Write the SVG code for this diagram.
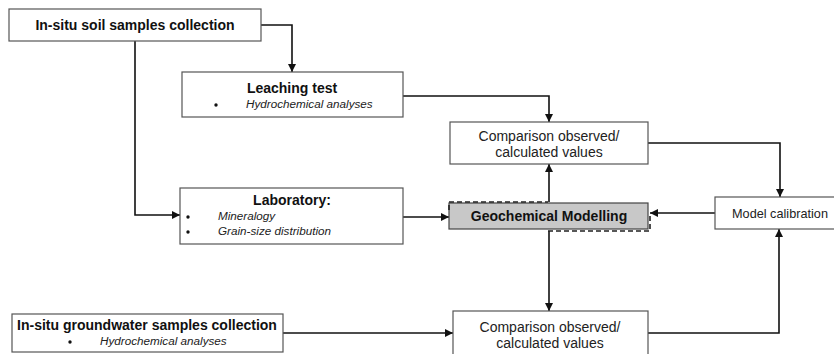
<svg xmlns="http://www.w3.org/2000/svg" width="834" height="354" viewBox="0 0 834 354">
<style>
.box{fill:#fff;stroke:#555;stroke-width:1.2}
.b{font-family:"Liberation Sans",Arial,sans-serif;font-weight:bold;font-size:14px;fill:#111}
.r{font-family:"Liberation Sans",Arial,sans-serif;font-size:14px;fill:#222}
.i{font-family:"Liberation Sans",Arial,sans-serif;font-style:italic;font-size:11.7px;fill:#222}
.c{fill:none;stroke:#111;stroke-width:1.6}
</style>
<defs>
<marker id="ah" viewBox="0 0 8 8" refX="8" refY="4" markerWidth="5" markerHeight="5" markerUnits="strokeWidth" orient="auto">
<path d="M0,0 L8,4 L0,8 z" fill="#111"/>
</marker>
</defs>
<g id="connectors">
<path class="c" d="M261,25 H292 V72" marker-end="url(#ah)"/>
<path class="c" d="M135,41 V215 H180" marker-end="url(#ah)"/>
<path class="c" d="M403,96 H549 V122" marker-end="url(#ah)"/>
<path class="c" d="M648,143 H780 V197" marker-end="url(#ah)"/>
<path class="c" d="M549,202 V164" marker-end="url(#ah)"/>
<path class="c" d="M403,217 H449" marker-end="url(#ah)"/>
<path class="c" d="M715,213 H650" marker-end="url(#ah)"/>
<path class="c" d="M549,231 V311" marker-end="url(#ah)"/>
<path class="c" d="M283,333 H453" marker-end="url(#ah)"/>
<path class="c" d="M648,333 H779 V229" marker-end="url(#ah)"/>
</g>
<g id="soil">
<rect class="box" x="9" y="9" width="252" height="32"/>
<text class="b" x="135" y="30" text-anchor="middle">In-situ soil samples collection</text>
</g>
<g id="leaching">
<rect class="box" x="182" y="72" width="221" height="45"/>
<text class="b" x="292" y="93" text-anchor="middle">Leaching test</text>
<circle cx="216" cy="105" r="1.7" fill="#111"/>
<text class="i" x="246" y="108">Hydrochemical analyses</text>
</g>
<g id="comparison1">
<rect class="box" x="450" y="122" width="198" height="42"/>
<text class="r" x="549" y="141" text-anchor="middle">Comparison observed/</text>
<text class="r" x="549" y="157" text-anchor="middle">calculated values</text>
</g>
<g id="laboratory">
<rect class="box" x="180" y="188" width="223" height="56"/>
<text class="b" x="292" y="205" text-anchor="middle">Laboratory:</text>
<circle cx="188" cy="217" r="1.7" fill="#111"/>
<text class="i" x="218" y="220">Mineralogy</text>
<circle cx="188" cy="232" r="1.7" fill="#111"/>
<text class="i" x="218" y="235">Grain-size distribution</text>
</g>
<g id="geochem">
<rect x="449" y="203" width="199" height="26" fill="#c8c8c8" stroke="#444" stroke-width="1.2"/>
<path d="M449,210 V202 H548 M548,231 H650 V215" fill="none" stroke="#222" stroke-width="1.6" stroke-dasharray="5,3"/>
<text class="b" x="549" y="221" text-anchor="middle">Geochemical Modelling</text>
</g>
<g id="calibration">
<rect class="box" x="715" y="197" width="125" height="32"/>
<text class="r" x="780" y="218" text-anchor="middle" style="font-size:12.7px">Model calibration</text>
</g>
<g id="groundwater">
<rect class="box" x="12" y="314" width="271" height="38"/>
<text class="b" x="147" y="330" text-anchor="middle">In-situ groundwater samples collection</text>
<circle cx="70" cy="342" r="1.7" fill="#111"/>
<text class="i" x="100" y="345">Hydrochemical analyses</text>
</g>
<g id="comparison2">
<rect class="box" x="453" y="311" width="195" height="50"/>
<text class="r" x="550" y="332" text-anchor="middle">Comparison observed/</text>
<text class="r" x="550" y="348" text-anchor="middle">calculated values</text>
</g>
</svg>
